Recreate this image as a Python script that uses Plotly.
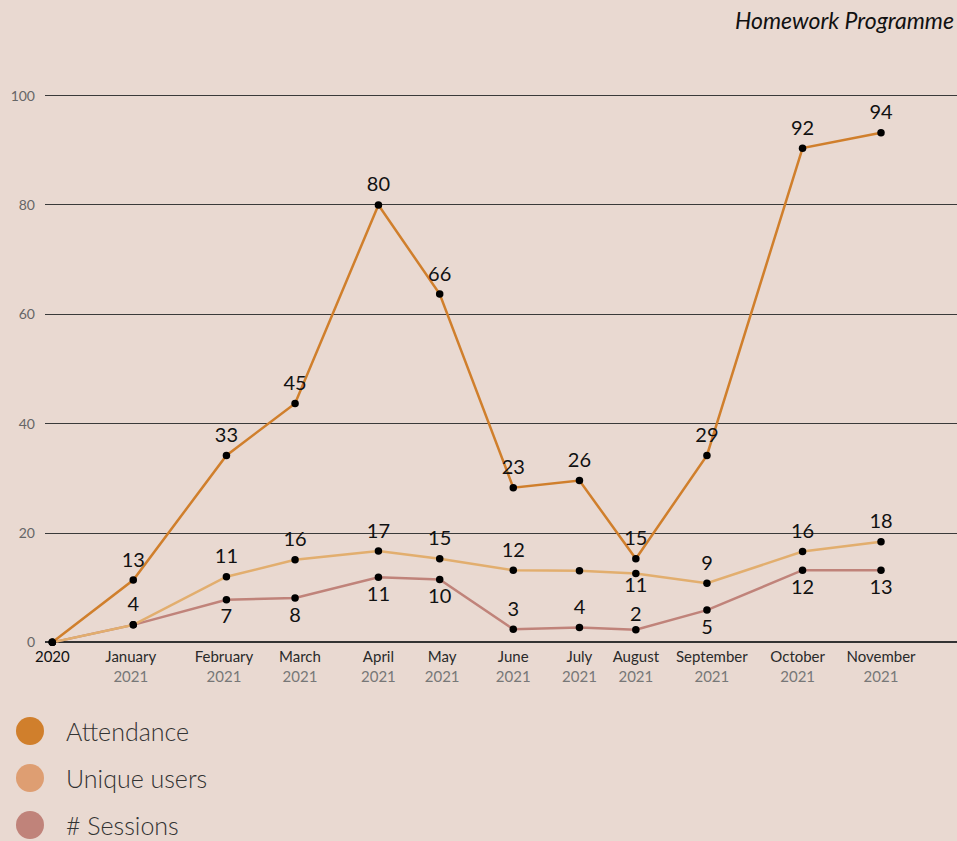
import plotly.graph_objects as go

# ---- data ----
dates = ["2020-12-15", "2021-01-17", "2021-02-24", "2021-03-24", "2021-04-27", "2021-05-22",
         "2021-06-21", "2021-07-18", "2021-08-10", "2021-09-08", "2021-10-17", "2021-11-18"]

attendance = [0, 11.4, 34.2, 43.7, 80.0, 63.7, 28.3, 29.6, 15.3, 34.2, 90.4, 93.2]
attendance_labels = ["", "13", "33", "45", "80", "66", "23", "26", "15", "29", "92", "94"]

unique_users = [0, 3.2, 12.0, 15.1, 16.7, 15.3, 13.2, 13.1, 12.6, 10.8, 16.6, 18.4]
unique_labels = ["", "4", "11", "16", "17", "15", "12", "", "11", "9", "16", "18"]

sessions = [0, 3.2, 7.8, 8.1, 11.9, 11.5, 2.4, 2.7, 2.3, 5.9, 13.2, 13.2]
sessions_labels = ["", "", "7", "8", "11", "10", "3", "4", "2", "5", "12", "13"]

tick_dates = ["2020-12-15", "2021-01-16", "2021-02-23", "2021-03-26", "2021-04-27", "2021-05-23",
              "2021-06-21", "2021-07-18", "2021-08-10", "2021-09-10", "2021-10-15", "2021-11-18"]
tick_months = ["", "January", "February", "March", "April", "May", "June", "July",
               "August", "September", "October", "November"]
tick_years = ["2020", "2021", "2021", "2021", "2021", "2021", "2021", "2021", "2021", "2021", "2021", "2021"]

series_names = ["Attendance", "Unique users", "# Sessions"]

# ---- styles ----
BG = "#E9D9D1"
C_ATT = "#D07F2C"
C_UNI = "#E2AE6E"
C_SES = "#C0837A"
LEG_COLORS = ["#D07F2C", "#DE9E72", "#C0837A"]

att_pos = ["top center"] * 12
uni_pos = ["top center"] * 12
uni_pos[8] = "bottom center"
ses_pos = ["bottom center", "top center", "bottom center", "bottom center", "bottom center",
           "bottom center", "top center", "top center", "top center", "bottom center",
           "bottom center", "bottom center"]
# label gap (invisible marker size) per point
gap_att = [12] * 12
gap_uni = [12] * 12
gap_uni[8] = 4
gap_ses = [12] * 12
gap_ses[8] = 4

ticktext = []
for m, y in zip(tick_months, tick_years):
    if m:
        ticktext.append(f"<span style='color:#2a2a2a'>{m}</span><br><span style='color:#777'>{y}</span>")
    else:
        ticktext.append(f"<span style='color:#111'>{y}</span><br> ")

label_font = dict(family="Lato", size=20, color="#111")

fig = go.Figure()


def add_line(yvals, color, name):
    fig.add_trace(go.Scatter(
        x=dates, y=yvals, mode="lines+markers",
        line=dict(color=color, width=2.5),
        marker=dict(color="#000", size=7.5, line=dict(width=0)),
        cliponaxis=False, name=name, showlegend=False,
    ))


def add_labels(yvals, labels, pos, gaps, name):
    fig.add_trace(go.Scatter(
        x=dates, y=yvals, text=labels, textposition=pos, mode="markers+text",
        marker=dict(color="rgba(0,0,0,0)", size=gaps, line=dict(width=0, color="rgba(0,0,0,0)")),
        textfont=label_font, cliponaxis=False, name=name, showlegend=False,
        hoverinfo="skip",
    ))


add_line(sessions, C_SES, series_names[2])
add_line(unique_users, C_UNI, series_names[1])
add_line(attendance, C_ATT, series_names[0])
add_labels(sessions, sessions_labels, ses_pos, gap_ses, series_names[2])
add_labels(unique_users, unique_labels, uni_pos, gap_uni, series_names[1])
add_labels(attendance, attendance_labels, att_pos, gap_att, series_names[0])

# plot area geometry (pixels) used for the custom legend
L, R, T, B = 45, 0, 94, 197
W, H = 957 - L - R, 841 - T - B

shapes = []
annotations = []
legend_y = [731, 778, 825]
for name, col, py in zip(series_names, LEG_COLORS, legend_y):
    yp = (841 - B - py) / H
    shapes.append(dict(type="circle", xref="paper", yref="paper",
                       xsizemode="pixel", ysizemode="pixel",
                       xanchor=(30 - L) / W, yanchor=yp,
                       x0=-14, x1=14, y0=-14, y1=14,
                       fillcolor=col, line=dict(width=0)))
    annotations.append(dict(text=name, xref="paper", yref="paper",
                            x=(64 - L) / W, y=yp, xanchor="left", yanchor="middle",
                            showarrow=False,
                            font=dict(family="Lato", size=25, color="#333", weight=300)))

annotations.append(dict(text="<i>Homework Programme</i>", xref="paper", yref="paper",
                        x=(956 - L) / W, y=(841 - B - 20) / H, xanchor="right", yanchor="middle",
                        showarrow=False, font=dict(family="Lato", size=23, color="#111")))

fig.update_layout(
    width=957, height=841,
    paper_bgcolor=BG, plot_bgcolor=BG,
    margin=dict(l=L, r=R, t=T, b=B, pad=0),
    showlegend=False,
    shapes=shapes, annotations=annotations,
    xaxis=dict(type="date", range=["2020-12-12", "2021-12-19"],
               tickmode="array", tickvals=tick_dates, ticktext=ticktext,
               showgrid=False, zeroline=False, showline=False, ticks="",
               tickfont=dict(family="Lato", size=15, color="#2a2a2a"),
               ticklabelstandoff=2),
    yaxis=dict(range=[-0.3, 100.3], tickmode="array", tickvals=[0, 20, 40, 60, 80, 100],
               showgrid=True, gridcolor="#3a3a3a", gridwidth=1,
               zeroline=True, zerolinecolor="#333", zerolinewidth=1.5,
               showline=False, ticks="",
               tickfont=dict(family="Lato", size=14, color="#666"),
               ticklabelstandoff=9),
    font=dict(family="Lato"),
)

fig.write_html("out.html", config={"displayModeBar": False},
               post_script="document.body.style.margin='0';document.body.style.overflow='hidden';")
